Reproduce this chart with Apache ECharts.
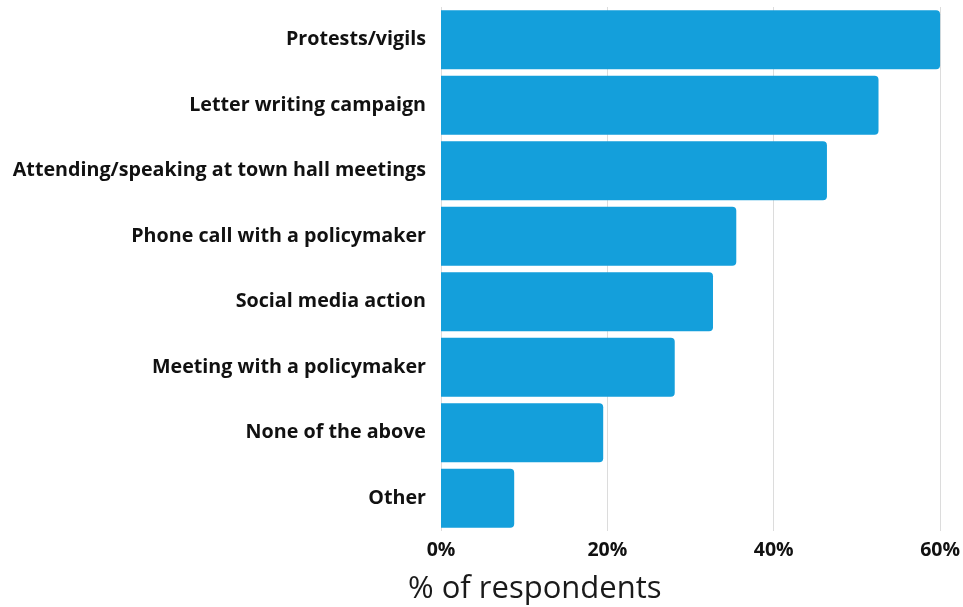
<!DOCTYPE html>
<html>
<head>
<meta charset="utf-8">
<script src="https://cdn.jsdelivr.net/npm/echarts@6/dist/echarts.min.js"></script>
<style>
  html, body { margin: 0; padding: 0; background: #fff; overflow: hidden; }
  #chart { width: 963px; height: 607px; }
</style>
</head>
<body>
<div id="chart"></div>
<script>
// Actions taken, top to bottom
const categories = [
  'Protests/vigils',
  'Letter writing campaign',
  'Attending/speaking at town hall meetings',
  'Phone call with a policymaker',
  'Social media action',
  'Meeting with a policymaker',
  'None of the above',
  'Other'
];
// Share of respondents (%)
const values = [60.0, 52.6, 46.4, 35.5, 32.7, 28.1, 19.5, 8.8];
const xTicks = [0, 20, 40, 60];
const axisTitle = '% of respondents';

const chart = echarts.init(document.getElementById('chart'));
chart.setOption({
  animation: false,
  title: {
    text: axisTitle,
    left: 408,
    top: 574,
    padding: 0,
    textStyle: { fontFamily: 'Open Sans', fontWeight: 'normal', fontSize: 31, color: '#1a1a1a' }
  },
  grid: { left: 441, right: 22, top: 7, bottom: 76, containLabel: false },
  xAxis: {
    type: 'value',
    min: xTicks[0],
    max: xTicks[xTicks.length - 1],
    interval: 20,
    axisLine: { show: false },
    axisTick: { show: false },
    axisLabel: {
      fontFamily: 'Open Sans', fontWeight: 'bold', fontSize: 19.5, color: '#111', margin: 9,
      formatter: v => v + '%'
    },
    splitLine: { show: true, lineStyle: { color: '#dcdcdc', width: 1 } }
  },
  yAxis: {
    type: 'category',
    data: categories,
    inverse: true,
    axisLine: { show: false },
    axisTick: { show: false },
    axisLabel: {
      fontFamily: 'Open Sans', fontWeight: 'bold', fontSize: 19.7, color: '#111', margin: 15,
      padding: [4, 0, 0, 0]
    }
  },
  series: [{
    type: 'bar',
    data: values,
    barCategoryGap: '10%',
    itemStyle: { color: '#149fdb', borderRadius: [0, 4, 4, 0] }
  }]
});
</script>
</body>
</html>
